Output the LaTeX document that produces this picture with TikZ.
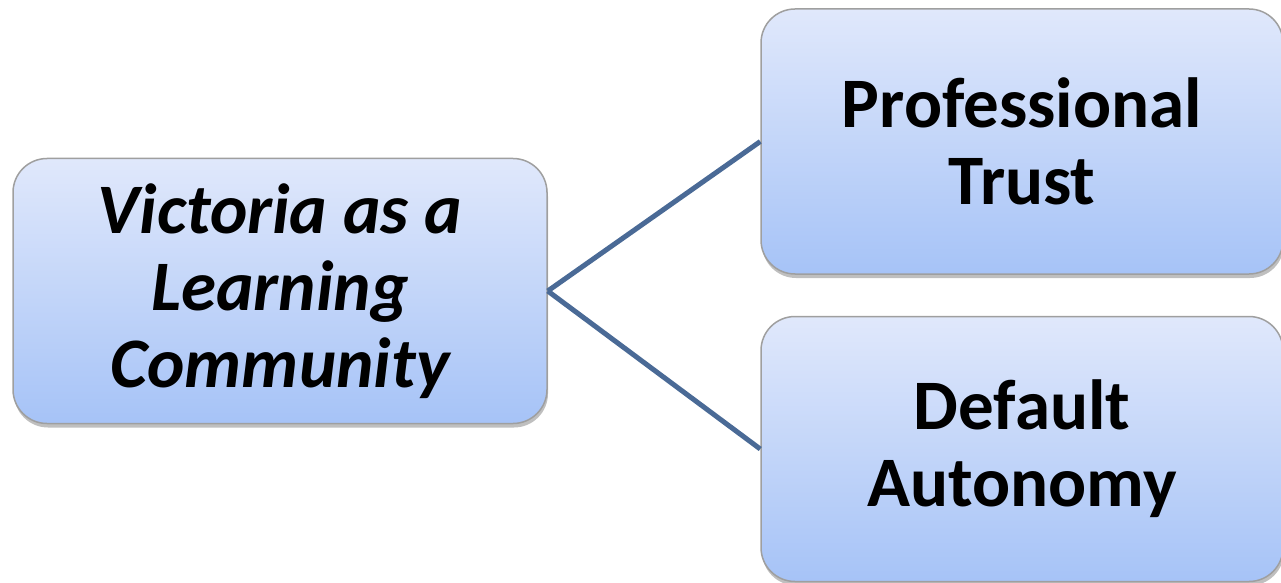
\documentclass[tikz,border=0pt]{standalone}
\usepackage{fontspec}
\setmainfont{Carlito}
\usetikzlibrary{shadows}
\definecolor{boxtop}{HTML}{E0E8FB}
\definecolor{boxbot}{HTML}{A6C3F7}
\definecolor{linkblue}{HTML}{4A6A96}
\tikzset{box/.style={draw=gray!75, line width=1.5pt, rounded corners=34pt,
  minimum width=534pt, minimum height=265pt, top color=boxtop, bottom color=boxbot,
  drop shadow={shadow xshift=1pt, shadow yshift=-4pt, opacity=0.25, fill=black},
  align=center, font=\fontsize{71}{77}\selectfont\bfseries}}
\tikzset{link/.style={draw=linkblue, line width=5pt}}
\begin{document}
\begin{tikzpicture}[x=1pt,y=1pt]
\useasboundingbox (0,0) rectangle (1281,582);
\node [box, font=\fontsize{71}{77}\selectfont\bfseries\itshape] (vic) at (280,291) {Victoria as a\\Learning\\Community};
\node [box, minimum width=522pt] (trust) at (1022,440.5) {Professional\\Trust};
\node [box, minimum width=522pt] (auto) at (1022,133) {Default\\Autonomy};
\draw [link] (vic.east) -- (trust.west);
\draw [link] (vic.east) -- (auto.west);
\end{tikzpicture}
\end{document}
